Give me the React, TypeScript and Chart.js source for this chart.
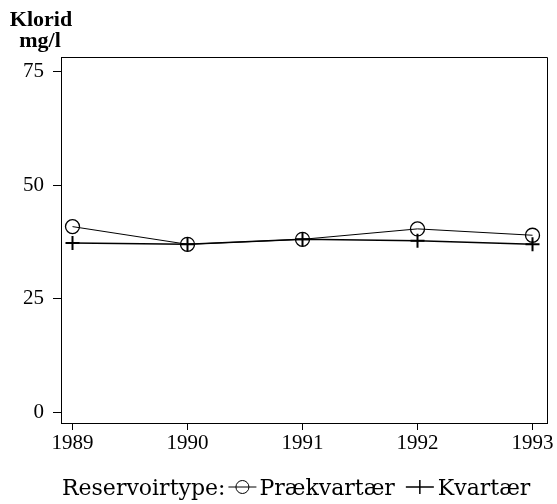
import { useEffect, useRef } from "react";
import { Chart, registerables } from "chart.js";

Chart.register(...registerables);

const years = [1989, 1990, 1991, 1992, 1993];
const praekvartaer = [40.9, 37.0, 38.1, 40.4, 39.0];
const kvartaer = [37.3, 37.0, 38.1, 37.8, 37.0];
const yTicks = [0, 25, 50, 75];
const yTitleLines = ["Klorid", "mg/l"];
const legendTitle = "Reservoirtype:";
const seriesNames = ["Prækvartær", "Kvartær"];

const W = 557;
const H = 504;
const LEGEND_FONT = "22px 'DejaVu Serif', serif";

const framePlugin = {
  id: "frame",
  afterDraw(chart: any) {
    const { ctx, chartArea } = chart;
    ctx.save();
    ctx.strokeStyle = "#000";
    ctx.lineWidth = 1;
    ctx.beginPath();
    ctx.moveTo(chartArea.left, chartArea.top + 0.5);
    ctx.lineTo(chartArea.right + 0.5, chartArea.top + 0.5);
    ctx.lineTo(chartArea.right + 0.5, chartArea.bottom);
    ctx.stroke();

    // y-axis title
    ctx.fillStyle = "#000";
    ctx.font = "bold 22px 'Liberation Serif', serif";
    ctx.textAlign = "center";
    ctx.textBaseline = "alphabetic";
    ctx.fillText(yTitleLines[0], 41, 26);
    ctx.fillText(yTitleLines[1], 40, 47);

    // legend
    ctx.font = LEGEND_FONT;
    ctx.textAlign = "left";
    const baseY = 495;
    const midY = 487;
    let x = 62;
    ctx.fillText(legendTitle, x, baseY);
    x += ctx.measureText(legendTitle).width + 3;
    // circle marker
    ctx.lineWidth = 1;
    ctx.beginPath();
    ctx.moveTo(x, midY);
    ctx.lineTo(x + 28, midY);
    ctx.stroke();
    ctx.beginPath();
    ctx.arc(x + 14, midY, 6.5, 0, Math.PI * 2);
    ctx.stroke();
    x += 31;
    ctx.fillText(seriesNames[0], x, baseY);
    x += ctx.measureText(seriesNames[0]).width + 11;
    ctx.lineWidth = 1.5;
    ctx.beginPath();
    ctx.moveTo(x, midY);
    ctx.lineTo(x + 28, midY);
    ctx.moveTo(x + 14, midY - 7);
    ctx.lineTo(x + 14, midY + 7);
    ctx.stroke();
    x += 32;
    ctx.fillText(seriesNames[1], x, baseY);
    ctx.restore();
  },
};

export default function App() {
  const ref = useRef<HTMLCanvasElement | null>(null);

  useEffect(() => {
    if (!ref.current) return;
    const chart = new Chart(ref.current, {
      type: "line",
      data: {
        datasets: [
          {
            label: seriesNames[0],
            data: years.map((y, i) => ({ x: y, y: praekvartaer[i] })),
            borderColor: "#000",
            borderWidth: 1,
            pointStyle: "circle",
            pointRadius: 7,
            pointBorderWidth: 1.3,
            pointBorderColor: "#000",
            pointBackgroundColor: "rgba(0,0,0,0)",
            tension: 0,
          },
          {
            label: seriesNames[1],
            data: years.map((y, i) => ({ x: y, y: kvartaer[i] })),
            borderColor: "#000",
            borderWidth: 1.6,
            pointStyle: "cross",
            pointRadius: 7,
            pointBorderWidth: 2,
            pointBorderColor: "#000",
            pointBackgroundColor: "#000",
            tension: 0,
          },
        ],
      },
      options: {
        responsive: false,
        animation: false,
        layout: { padding: { top: 57, right: 10, left: 0, bottom: 0 } },
        plugins: {
          legend: { display: false },
          title: { display: false },
          tooltip: { enabled: false },
        },
        scales: {
          x: {
            type: "linear",
            min: 1988.9,
            max: 1993.126,
            afterBuildTicks: (s: any) => {
              s.ticks = years.map((v) => ({ value: v }));
            },
            afterFit: (s: any) => {
              s.height = H - 423;
            },
            ticks: {
              callback: (v: any) => String(v),
              color: "#000",
              font: { family: "'Liberation Serif', serif", size: 21 },
              padding: 1,
              maxRotation: 0,
              autoSkip: false,
            },
            grid: {
              display: true,
              drawOnChartArea: false,
              drawTicks: true,
              tickLength: 7,
              color: "#000",
              lineWidth: 1,
            },
            border: { display: true, color: "#000", width: 1 },
          },
          y: {
            type: "linear",
            min: -2.4,
            max: 78.3,
            afterBuildTicks: (s: any) => {
              s.ticks = yTicks.map((v) => ({ value: v }));
            },
            afterFit: (s: any) => {
              s.width = 61;
            },
            ticks: {
              callback: (v: any) => String(v),
              color: "#000",
              font: { family: "'Liberation Serif', serif", size: 21 },
              padding: 9,
              autoSkip: false,
            },
            grid: {
              display: true,
              drawOnChartArea: false,
              drawTicks: true,
              tickLength: 8,
              color: "#000",
              lineWidth: 1,
            },
            border: { display: true, color: "#000", width: 1 },
          },
        },
      },
      plugins: [framePlugin],
    } as any);
    return () => chart.destroy();
  }, []);

  return (
    <div style={{ position: "absolute", left: 0, top: 0, width: W, height: H, background: "#fff" }}>
      <canvas ref={ref} width={W} height={H} style={{ display: "block", width: W, height: H }} />
    </div>
  );
}
